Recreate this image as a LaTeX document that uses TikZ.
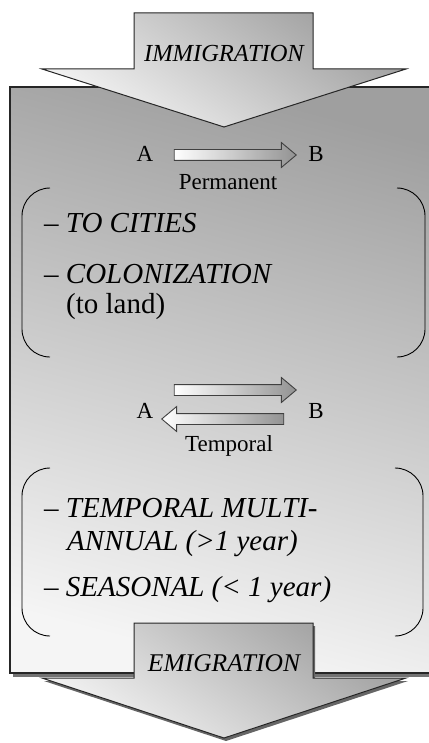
\documentclass[tikz,border=0pt]{standalone}
\usepackage{fontspec}
\setmainfont{Liberation Serif}
\usepackage{tikz}
\usetikzlibrary{shapes.arrows}

\begin{document}
\begin{tikzpicture}[x=1pt, y=-1pt]
            \tikzset{
                panel/.style={draw=black!85, line width=1.1pt},
                bigarrow/.style={draw=black!85, line width=1pt, top color=gray!75, bottom color=gray!8, shading angle=-35},
                flowarrow/.style={single arrow, draw=black!75, line width=0.9pt, left color=white, right color=gray!85,
                    minimum height=122pt, inner xsep=0pt, inner ysep=5pt, single arrow head extend=7pt, single arrow tip angle=80},
                brace/.style={draw=black, line width=0.9pt, rounded corners=28pt},
                lbl/.style={font=\fontsize{23}{26}\selectfont, inner sep=0pt},
                item/.style={font=\fontsize{29}{34}\selectfont, inner sep=0pt, anchor=base west}
            }
            \useasboundingbox (0,0) rectangle (428,743);

            % Panel with shadow
            \fill[black!55] (13,91) rectangle (460,677);
            \shade[top color=gray!75, bottom color=gray!8, shading angle=-15] (10,87) rectangle (460,673);
            \draw[panel] (10,87) rectangle (460,673);

            % Immigration arrow
            \draw[bigarrow] (134,13) -- (313,13) -- (313,69) -- (406,69) -- (224,127) -- (42,69) -- (134,69) -- cycle;
            \node[lbl, font=\fontsize{24.5}{26}\selectfont\itshape, anchor=base] (imm) at (224,62) {IMMIGRATION};

            % Permanent
            \node[lbl, anchor=base] (a1) at (145,162) {A};
            \node[lbl, anchor=base] (b1) at (316,162) {B};
            \node[flowarrow] (permarrow) at (232,155) {};
            \node[lbl, anchor=base] (perm) at (228,190) {Permanent};

            \draw[brace] (50,188) -- (22,188) -- (22,357) -- (50,357);
            \draw[brace] (397,188) -- (425,188) -- (425,357) -- (397,357);
            \node[item] (cities) at (44,233) {-- \textit{TO CITIES}};
            \node[item] (colon) at (44,283) {-- \textit{COLONIZATION}};
            \node[item] (land) at (66,313) {(to land)};

            % Temporal
            \node[lbl, anchor=base] (a2) at (145,418) {A};
            \node[lbl, anchor=base] (b2) at (316,418) {B};
            \node[flowarrow] (tempfwd) at (232,390) {};
            \node[flowarrow, shape border rotate=180] (tempback) at (226,419) {};
            \node[lbl, anchor=base] (temp) at (229,451) {Temporal};

            \draw[brace] (50,468) -- (22,468) -- (22,636) -- (50,636);
            \draw[brace] (397,468) -- (423,468) -- (423,636) -- (397,636);
            \node[item] (multi) at (44,517) {-- \textit{TEMPORAL MULTI-}};
            \node[item] (annual) at (67,550) {\textit{ANNUAL (>1 year)}};
            \node[item] (seasonal) at (44,596) {-- \textit{SEASONAL (< 1 year)}};

            % Emigration arrow
            \fill[black!60] (136,626) -- (315,626) -- (315,681) -- (408,681) -- (226,741) -- (44,681) -- (136,681) -- cycle;
            \draw[bigarrow] (134,623) -- (313,623) -- (313,678) -- (406,678) -- (224,738) -- (42,678) -- (134,678) -- cycle;
            \node[lbl, font=\fontsize{25.5}{28}\selectfont\itshape, anchor=base] (emi) at (224,671) {EMIGRATION};
\end{tikzpicture}
\end{document}
